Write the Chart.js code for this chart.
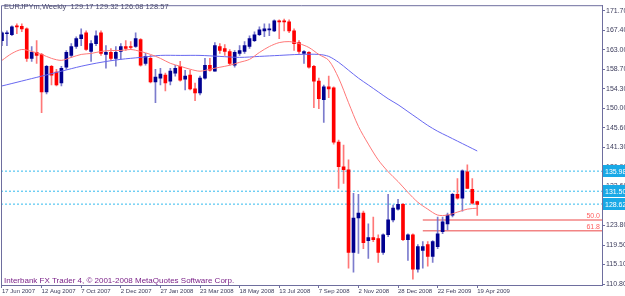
<!DOCTYPE html>
<html>
<head>
<meta charset="utf-8">
<script src="https://cdn.jsdelivr.net/npm/chart.js@4.4.1/dist/chart.umd.min.js"></script>
<style>
  html, body { margin: 0; padding: 0; background: #fff; }
  #wrap { width: 625px; height: 296px; }
</style>
</head>
<body>
<div id="wrap"><canvas id="graphique" width="625" height="296"></canvas></div>
<script>
// Textes du graphique
const titreSymbole = 'EURJPYm,Weekly  129.17 129.32 126.08 128.57';
const copyright = 'Interbank FX Trader 4, \u00a9 2001-2008 MetaQuotes Software Corp.';

// Etiquettes de l'axe X (une toutes les 8 semaines)
const semainesIdx = [0, 8, 16, 24, 32, 40, 48, 56, 64, 72, 80, 88, 96];
const semainesLabels = ['17 Jun 2007', '12 Aug 2007', '7 Oct 2007', '2 Dec 2007', '27 Jan 2008', '23 Mar 2008',
    '18 May 2008', '13 Jul 2008', '7 Sep 2008', '2 Nov 2008', '28 Dec 2008', '22 Feb 2009', '19 Apr 2009'];

// Etiquettes de l'axe Y
const prixTicks = [110.80, 115.15, 119.50, 123.85, 128.20, 132.55, 136.90, 141.25, 145.60, 149.95, 154.30, 158.65, 163.00, 167.35, 171.70];
const prixLabels = ['110.80', '115.10', '119.50', '123.80', '128.20', '132.60', '136.90', '141.30', '145.60', '150.00', '154.30', '158.70', '163.00', '167.40', '171.70'];

// Bougies hebdomadaires (17 Jun 2007 -> 19 Apr 2009)
const ouvertures = [165.09, 166.62, 166.40, 168.38, 168.30, 167.72, 161.13, 162.45, 162.01, 153.66,
    159.37, 158.05, 155.64, 159.15, 161.79, 163.77, 165.53, 166.84, 162.67, 164.43,
    166.84, 162.01, 162.45, 161.13, 162.67, 163.77, 163.77, 163.77, 165.31, 160.03,
    161.13, 155.85, 156.73, 157.39, 156.07, 157.83, 159.37, 156.51, 157.39, 154.32,
    153.44, 156.73, 159.59, 158.27, 163.77, 163.33, 162.67, 159.59, 162.23, 162.67,
    163.77, 165.09, 166.40, 167.28, 167.50, 167.28, 169.48, 169.48, 169.26, 167.28,
    164.65, 162.23, 162.45, 159.37, 156.07, 151.90, 154.76, 154.54, 142.45, 136.95,
    136.29, 117.83, 125.53, 126.62, 120.47, 121.13, 120.91, 117.83, 121.79, 125.09,
    127.50, 128.60, 120.69, 121.79, 114.10, 118.27, 119.59, 116.95, 119.15, 122.45,
    124.21, 126.18, 130.80, 129.92, 135.85, 131.90, 129.17];
const hauts = [167.06, 167.28, 168.38, 168.82, 168.82, 167.94, 163.77, 165.09, 162.23, 159.59,
    159.59, 158.71, 159.37, 162.89, 164.43, 165.96, 167.72, 167.28, 165.09, 167.28,
    167.28, 163.99, 163.33, 163.77, 164.43, 165.09, 164.87, 166.84, 165.53, 162.23,
    161.79, 158.71, 158.93, 157.83, 158.93, 159.59, 160.47, 158.49, 158.49, 155.64,
    157.17, 161.13, 161.13, 164.65, 164.43, 164.21, 163.11, 162.89, 163.99, 164.87,
    166.18, 167.06, 168.16, 168.82, 168.82, 169.70, 169.70, 169.92, 169.70, 167.72,
    165.09, 162.89, 162.67, 159.59, 156.73, 155.20, 157.17, 154.76, 142.89, 141.79,
    138.49, 131.02, 130.80, 127.06, 124.21, 125.75, 121.79, 122.01, 130.80, 128.38,
    129.70, 128.82, 122.01, 122.01, 119.59, 120.25, 120.25, 120.47, 125.75, 125.75,
    126.62, 131.02, 134.32, 136.29, 137.39, 134.32, 129.32];
const bas = [163.99, 163.99, 166.18, 166.62, 167.06, 160.47, 160.47, 160.03, 149.04, 153.22,
    155.20, 154.98, 154.98, 158.71, 161.35, 163.33, 163.99, 162.89, 160.47, 163.99,
    161.79, 158.93, 160.69, 159.37, 160.91, 162.89, 163.11, 163.55, 159.37, 159.59,
    155.64, 151.24, 155.20, 153.88, 155.20, 157.17, 156.07, 154.10, 154.10, 151.68,
    153.00, 156.51, 158.27, 158.27, 162.23, 161.79, 159.59, 159.15, 161.79, 162.23,
    163.33, 164.87, 166.18, 165.96, 166.18, 167.06, 165.53, 167.28, 166.84, 162.89,
    162.23, 160.03, 158.93, 150.14, 149.92, 146.84, 152.34, 142.01, 132.12, 133.22,
    114.32, 113.44, 117.61, 118.71, 116.51, 120.25, 115.64, 117.39, 121.35, 124.65,
    127.28, 120.47, 116.07, 111.90, 113.44, 114.32, 114.76, 115.64, 118.71, 122.01,
    122.89, 125.75, 129.70, 127.06, 132.12, 128.60, 126.08];
const clotures = [166.84, 166.84, 168.16, 168.16, 167.72, 161.13, 162.45, 161.79, 153.66, 159.37,
    157.39, 155.20, 158.93, 162.45, 163.77, 165.53, 166.40, 163.11, 164.43, 166.18,
    162.23, 162.45, 161.13, 162.45, 163.77, 163.33, 163.55, 165.53, 159.59, 161.57,
    155.85, 156.95, 157.61, 155.64, 158.27, 158.93, 156.29, 157.17, 154.32, 153.44,
    156.73, 159.59, 158.49, 163.99, 162.89, 162.67, 160.03, 162.45, 162.89, 163.99,
    165.53, 166.40, 167.50, 167.72, 167.72, 169.48, 169.26, 169.26, 167.28, 164.43,
    162.67, 162.67, 159.15, 156.07, 152.12, 154.76, 154.32, 142.45, 136.95, 136.29,
    117.83, 125.53, 126.62, 120.03, 121.13, 120.69, 117.83, 121.79, 125.09, 127.72,
    128.60, 120.69, 121.79, 114.10, 119.15, 119.15, 116.95, 120.25, 122.01, 124.65,
    126.18, 130.80, 129.92, 136.07, 132.12, 128.82, 128.57];

// Moyennes mobiles (une valeur toutes les 2 bougies)
const mmRapideIdx = [0, 2, 4, 6, 8, 10, 12, 14, 16, 18, 20, 22, 24, 26, 28, 30, 32, 34, 36, 38, 40, 42, 44, 46, 48,
    50, 52, 54, 56, 58, 60, 62, 64, 66, 68, 70, 72, 74, 76, 78, 80, 82, 84, 86, 88, 90, 92, 94, 96];
const mmRapide = [160.69, 162.23, 163.11, 162.67, 162.01, 161.13, 160.69, 161.35, 162.01, 162.23, 162.67, 162.89, 162.89,
    163.11, 162.67, 162.01, 161.13, 160.03, 159.37, 158.71, 158.27, 158.71, 159.15, 159.59, 160.25, 160.91, 162.45,
    163.77, 164.65, 164.87, 164.43, 163.55, 162.01, 160.69, 156.73, 151.24, 145.96, 142.01, 138.49, 135.85, 133.66,
    131.24, 129.04, 127.50, 126.18, 126.18, 126.84, 127.50, 127.72];
const mmLenteIdx = [0, 4, 8, 12, 16, 20, 24, 28, 32, 36, 40, 44, 48, 52, 56, 60, 64, 66, 68, 70, 72, 74, 76, 78, 80,
    82, 84, 86, 88, 90, 92, 94, 96];
const mmLente = [154.98, 156.07, 157.17, 158.27, 159.37, 160.25, 160.91, 161.35, 161.79, 161.79, 161.79, 161.57, 161.35,
    161.57, 161.79, 162.01, 162.01, 161.57, 160.25, 158.49, 156.73, 155.20, 153.66, 152.12, 150.80, 149.26, 147.72,
    146.18, 144.87, 143.77, 142.67, 141.57, 140.47];

// Niveaux horizontaux
const niveaux = [135.98, 131.50, 128.62];
const niveauxLabels = ['135.98', '131.50', '128.62'];
const fiboNiveaux = [125.09, 122.67];
const fiboLabels = ['50.0', '61.8'];
const fiboDebut = 85;

const X_MIN = -0.2, X_MAX = 121.2;
const estHausse = i => clotures[i] >= ouvertures[i];

const cadre = '#6E6E9E';
const police = '"Liberation Sans", Arial, sans-serif';

const datasets = [];

// Meches
datasets.push({
    type: 'bar',
    data: ouvertures.map((o, i) => ({ x: i, y: [bas[i], hauts[i]] })),
    backgroundColor: ctx => estHausse(ctx.dataIndex) ? 'rgba(110,110,200,0.9)' : 'rgba(255,120,120,1)',
    barThickness: 1,
    grouped: false,
    order: 4
});
// Corps
datasets.push({
    type: 'bar',
    data: ouvertures.map((o, i) => ({ x: i, y: [o, clotures[i]] })),
    backgroundColor: ctx => estHausse(ctx.dataIndex) ? '#000090' : '#FF0000',
    barThickness: 3,
    minBarLength: 1,
    grouped: false,
    order: 3
});
// Moyennes mobiles
datasets.push({
    type: 'line',
    data: mmRapideIdx.map((x, k) => ({ x: x, y: mmRapide[k] })),
    borderColor: '#FF7878',
    borderWidth: 1,
    pointRadius: 0,
    tension: 0.3,
    order: 1
});
datasets.push({
    type: 'line',
    data: mmLenteIdx.map((x, k) => ({ x: x, y: mmLente[k] })),
    borderColor: '#6868F0',
    borderWidth: 1,
    pointRadius: 0,
    tension: 0.3,
    order: 2
});
// Lignes horizontales pointillees
niveaux.forEach(v => {
    datasets.push({
        type: 'line',
        data: [{ x: X_MIN, y: v }, { x: X_MAX, y: v }],
        borderColor: '#33BBEE',
        borderWidth: 1,
        borderDash: [2, 2],
        pointRadius: 0,
        order: 6
    });
});
// Niveaux de Fibonacci
fiboNiveaux.forEach(v => {
    datasets.push({
        type: 'line',
        data: [{ x: fiboDebut, y: v }, { x: X_MAX, y: v }],
        borderColor: 'rgba(240,110,110,0.85)',
        borderWidth: 1.5,
        pointRadius: 0,
        order: 5
    });
});

const decor = {
    id: 'decor',
    afterDraw(chart) {
        const { ctx, chartArea } = chart;
        const yScale = chart.scales.y;
        ctx.save();
        // cadre haut et gauche
        ctx.strokeStyle = cadre;
        ctx.lineWidth = 1;
        ctx.beginPath();
        ctx.moveTo(chartArea.left + 0.5, chartArea.bottom);
        ctx.lineTo(chartArea.left + 0.5, chartArea.top + 0.5);
        ctx.lineTo(chartArea.right, chartArea.top + 0.5);
        ctx.stroke();

        // titre
        ctx.fillStyle = '#4A4A6E';
        ctx.font = '7.5px ' + police;
        ctx.textBaseline = 'alphabetic';
        ctx.textAlign = 'left';
        ctx.fillText(titreSymbole, 4, 9);

        // copyright
        ctx.fillStyle = '#7A2088';
        ctx.font = '8px ' + police;
        ctx.fillText(copyright, 4, 283);

        // etiquettes Fibonacci
        ctx.fillStyle = '#FF6060';
        ctx.font = '7px ' + police;
        ctx.textAlign = 'right';
        fiboNiveaux.forEach((v, k) => {
            ctx.fillText(fiboLabels[k], chartArea.right - 2, yScale.getPixelForValue(v) - 2);
        });

        // boites de prix
        ctx.textAlign = 'left';
        niveaux.forEach((v, k) => {
            const py = Math.round(yScale.getPixelForValue(v));
            ctx.fillStyle = '#19A9E6';
            ctx.fillRect(chartArea.right + 1, py - 6, 23, 12);
            ctx.fillStyle = '#FFFFFF';
            ctx.fillText(niveauxLabels[k], chartArea.right + 3, py + 3);
        });
        ctx.restore();
    }
};

const ctx = document.getElementById('graphique').getContext('2d');
new Chart(ctx, {
    type: 'bar',
    data: { datasets: datasets },
    options: {
        responsive: false,
        animation: false,
        events: [],
        layout: { padding: { left: 1, top: 1, right: 0, bottom: 0 } },
        plugins: { legend: { display: false }, tooltip: { enabled: false } },
        scales: {
            x: {
                type: 'linear',
                position: 'bottom',
                min: X_MIN,
                max: X_MAX,
                offset: false,
                afterBuildTicks: s => { s.ticks = semainesIdx.map(v => ({ value: v })); },
                afterFit: s => { s.height = 11; },
                grid: { display: true, drawOnChartArea: false, offset: false, tickLength: 3, color: cadre },
                border: { display: true, color: cadre },
                ticks: {
                    autoSkip: false,
                    maxRotation: 0,
                    align: 'start',
                    padding: 0,
                    color: '#3C3C5C',
                    font: { family: police, size: 6 },
                    callback: v => semainesLabels[semainesIdx.indexOf(v)]
                }
            },
            y: {
                type: 'linear',
                position: 'right',
                min: 110.58,
                max: 172.99,
                afterBuildTicks: s => { s.ticks = prixTicks.map(v => ({ value: v })); },
                afterFit: s => { s.width = 23; },
                grid: { display: true, drawOnChartArea: false, tickLength: 3, color: cadre },
                border: { display: true, color: cadre },
                ticks: {
                    padding: 1,
                    color: '#3C3C5C',
                    font: { family: police, size: 7 },
                    callback: v => prixLabels[prixTicks.indexOf(v)]
                }
            }
        }
    },
    plugins: [decor]
});
</script>
</body>
</html>
